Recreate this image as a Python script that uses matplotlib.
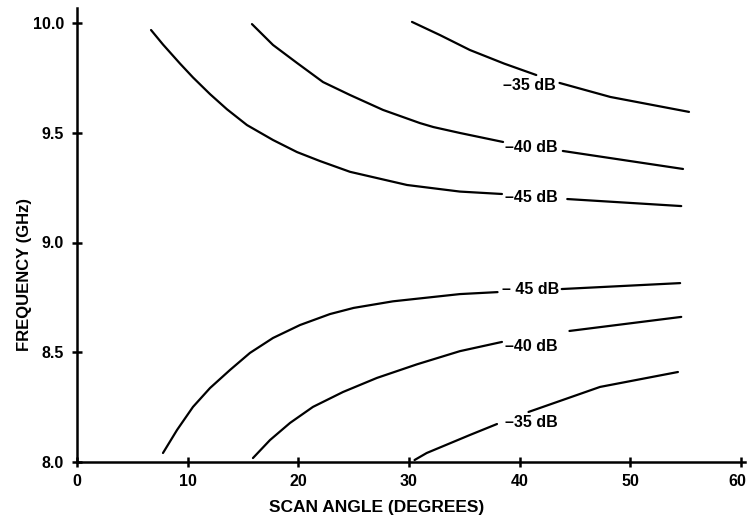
import matplotlib
matplotlib.use("Agg")
import matplotlib.pyplot as plt
import matplotlib.transforms as mtransforms
import numpy as np

# ---- data (scan angle in degrees, frequency in GHz) ----
# upper branch curves: (segment before label, segment after label)
up45_a_x = [6.69, 7.77, 9.31, 10.48, 12.02, 13.55, 15.36, 17.71, 19.88, 21.96, 24.67, 29.82, 34.6, 38.4]
up45_a_y = [9.968, 9.902, 9.815, 9.752, 9.676, 9.607, 9.535, 9.467, 9.412, 9.371, 9.322, 9.262, 9.232, 9.221]
up45_b_x = [44.3, 54.6]
up45_b_y = [9.198, 9.166]

up40_a_x = [15.81, 17.71, 19.88, 22.23, 24.67, 27.65, 30.99, 32.2, 34.6, 38.5]
up40_a_y = [9.995, 9.900, 9.818, 9.731, 9.672, 9.604, 9.544, 9.526, 9.499, 9.458]
up40_b_x = [43.9, 54.76]
up40_b_y = [9.417, 9.335]

up35_a_x = [30.27, 32.8, 35.5, 38.6, 41.5]
up35_a_y = [10.005, 9.945, 9.877, 9.815, 9.763]
up35_b_x = [43.6, 48.2, 55.3]
up35_b_y = [9.727, 9.663, 9.595]

# lower branch curves
lo45_a_x = [7.77, 9.04, 10.48, 12.02, 13.82, 15.63, 17.71, 20.15, 22.86, 25.0, 28.55, 34.6, 38.0]
lo45_a_y = [8.041, 8.146, 8.251, 8.337, 8.419, 8.497, 8.565, 8.624, 8.674, 8.702, 8.732, 8.765, 8.774]
lo45_b_x = [43.8, 54.5]
lo45_b_y = [8.788, 8.815]

lo40_a_x = [15.9, 17.44, 19.25, 21.32, 24.04, 27.1, 30.72, 34.6, 38.4]
lo40_a_y = [8.018, 8.100, 8.178, 8.251, 8.319, 8.383, 8.445, 8.505, 8.547]
lo40_b_x = [44.5, 54.6]
lo40_b_y = [8.597, 8.661]

lo35_a_x = [30.5, 31.6, 35.5, 37.95]
lo35_a_y = [8.009, 8.041, 8.123, 8.173]
lo35_b_x = [40.8, 47.26, 54.3]
lo35_b_y = [8.228, 8.342, 8.410]

# contour labels: text, x, y
label_texts = ["\u201335 dB", "\u201340 dB", "\u201345 dB", "\u2013 45 dB", "\u201340 dB", "\u201335 dB"]
label_x = [38.5, 38.7, 38.7, 38.4, 38.7, 38.7]
label_y = [9.713, 9.435, 9.203, 8.784, 8.524, 8.182]

x_ticks = [0, 10, 20, 30, 40, 50, 60]
y_ticks = [8.0, 8.5, 9.0, 9.5, 10.0]
y_ticklabels = ["8.0", "8.5", "9.0", "9.5", "10.0"]

# ---- figure ----
plt.rcParams['font.family'] = ['Liberation Sans', 'DejaVu Sans']
plt.rcParams['font.weight'] = 'bold'

fig = plt.figure(figsize=(7.48, 5.19), dpi=100)
ax = fig.add_axes([77 / 748, 1 - 462 / 519, (741 - 77) / 748 * 60.35 / 60, (462 - 8) / 519])
ax.set_xlim(0, 60.35)
ax.set_ylim(8.0, 8.0 + (462 - 8) / 219.5)

segments = [
    (up45_a_x, up45_a_y), (up45_b_x, up45_b_y),
    (up40_a_x, up40_a_y), (up40_b_x, up40_b_y),
    (up35_a_x, up35_a_y), (up35_b_x, up35_b_y),
    (lo45_a_x, lo45_a_y), (lo45_b_x, lo45_b_y),
    (lo40_a_x, lo40_a_y), (lo40_b_x, lo40_b_y),
    (lo35_a_x, lo35_a_y), (lo35_b_x, lo35_b_y),
]
for sx, sy in segments:
    ax.plot(sx, sy, color='black', lw=1.6, solid_capstyle='round', solid_joinstyle='round')

for t, lx, ly in zip(label_texts, label_x, label_y):
    ax.text(lx, ly, t, ha='left', va='center', fontsize=11.5, fontweight='bold', color='black')

for s in ['top', 'right']:
    ax.spines[s].set_visible(False)
for s in ['left', 'bottom']:
    ax.spines[s].set_linewidth(1.8)
    ax.spines[s].set_color('black')

ax.set_xticks(x_ticks)
ax.set_yticks(y_ticks)
ax.set_yticklabels(y_ticklabels)
ax.tick_params(axis='both', direction='inout', length=7, width=1.8, labelsize=11.5, colors='black')
ax.tick_params(axis='x', pad=5)
ax.tick_params(axis='y', pad=6)
for lab in ax.get_xticklabels() + ax.get_yticklabels():
    lab.set_fontweight('bold')

# keep the last x tick label ("60") inside the figure edge
fig.canvas.draw()
last = ax.get_xticklabels()[-1]
last.set_transform(last.get_transform() + mtransforms.ScaledTranslation(-4 / 100, 0, fig.dpi_scale_trans))

ax.set_xlabel("SCAN ANGLE (DEGREES)", fontsize=12.5, fontweight='bold')
ax.set_ylabel("FREQUENCY (GHz)", fontsize=12, fontweight='bold')
ax.xaxis.set_label_coords(0.449, -0.084)
ax.yaxis.set_label_coords(-0.067, 0.412)

fig.savefig("out.png", dpi=100)
